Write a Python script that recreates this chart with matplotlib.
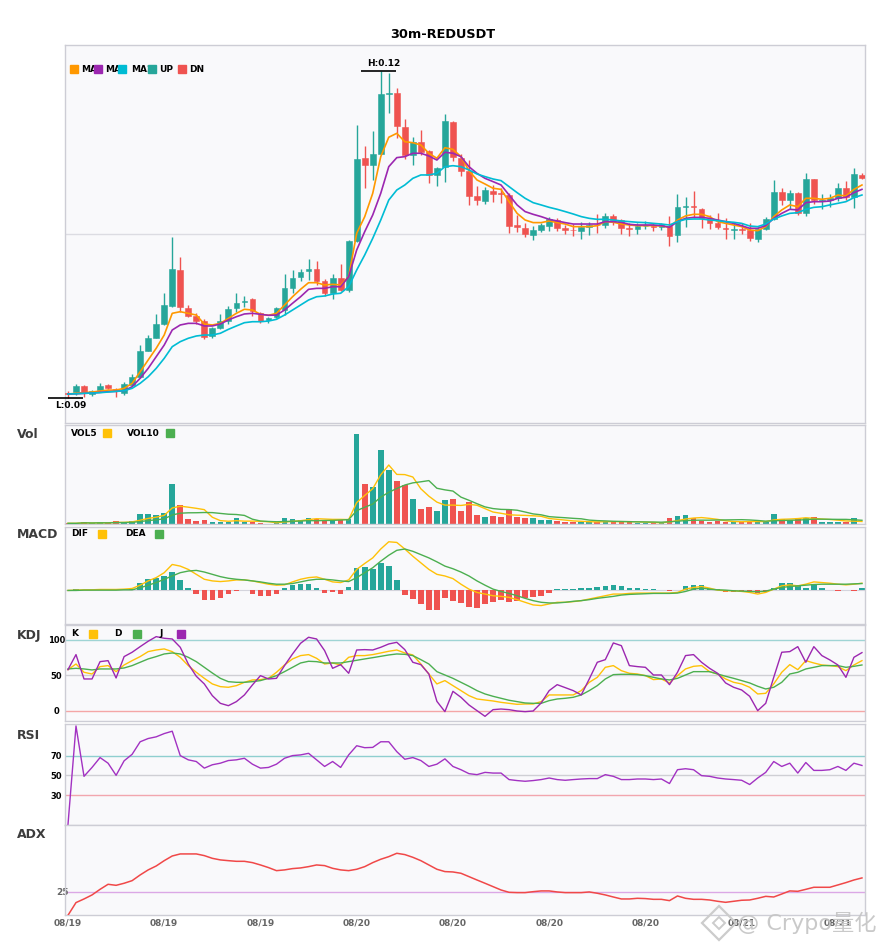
import numpy as np
import matplotlib
matplotlib.use("Agg")
import matplotlib.pyplot as plt
from matplotlib.patches import Rectangle
from matplotlib.lines import Line2D
from matplotlib.transforms import Bbox, TransformedBbox

W, H = 885, 950

# ---- 30m candles, prices x 1e-5 USDT ----
open_ = np.array([9049, 9052, 9110, 9037, 9073, 9117, 9085, 9046, 9119, 9193,
                  9431, 9553, 9682, 9844, 10174, 9828, 9755, 9706, 9566, 9639,
                  9704, 9828, 9881, 9908, 9777, 9718, 9740, 9807, 10009, 10113,
                  10168, 10181, 10073, 9966, 10098, 9991, 10440, 11202, 11138, 11236,
                  11789, 11798, 11486, 11229, 11348, 11269, 11043, 11122, 11535, 11206,
                  11082, 10853, 10807, 10902, 10881, 10862, 10587, 10557, 10498, 10541,
                  10581, 10633, 10557, 10544, 10535, 10566, 10590, 10587, 10670, 10633,
                  10560, 10553, 10575, 10581, 10572, 10578, 10498, 10755, 10761, 10734,
                  10642, 10605, 10560, 10544, 10550, 10541, 10461, 10548, 10639, 10890,
                  10816, 10881, 10700, 11009, 10807, 10816, 10832, 10929, 10847, 11049]) / 1e5
high = np.array([9064, 9128, 9119, 9076, 9138, 9128, 9094, 9150, 9220, 9486,
                 9578, 9768, 9961, 10477, 10294, 9853, 9777, 9722, 9651, 9768,
                 9844, 9966, 9939, 9920, 9786, 9746, 9832, 10135, 10172, 10181,
                 10272, 10257, 10092, 10135, 10227, 10450, 11505, 11309, 11450, 11997,
                 11979, 11844, 11557, 11392, 11459, 11275, 11122, 11605, 11544, 11238,
                 11183, 10945, 10936, 10951, 10927, 10878, 10679, 10603, 10578, 10603,
                 10663, 10649, 10587, 10594, 10617, 10617, 10688, 10694, 10688, 10639,
                 10603, 10603, 10624, 10603, 10608, 10670, 10871, 10841, 10899, 10740,
                 10679, 10700, 10649, 10603, 10608, 10603, 10566, 10658, 10997, 10927,
                 10908, 10893, 11064, 11009, 10871, 10871, 10975, 10988, 11110, 11067]) / 1e5
low = np.array([9000, 9028, 9005, 9021, 9067, 9080, 9012, 9030, 9110, 9181,
                9431, 9548, 9670, 9838, 9786, 9743, 9679, 9539, 9548, 9630,
                9682, 9786, 9838, 9755, 9691, 9685, 9731, 9761, 9961, 10076,
                10083, 10037, 9936, 9905, 9984, 9975, 10434, 10929, 11000, 11236,
                11612, 11382, 11193, 11140, 11229, 10970, 10948, 10979, 11174, 11037,
                10771, 10771, 10782, 10801, 10792, 10511, 10526, 10480, 10450, 10526,
                10535, 10532, 10505, 10486, 10459, 10495, 10511, 10557, 10587, 10505,
                10489, 10505, 10548, 10535, 10541, 10397, 10434, 10572, 10649, 10562,
                10553, 10550, 10461, 10459, 10502, 10443, 10434, 10541, 10633, 10771,
                10731, 10679, 10670, 10777, 10737, 10755, 10810, 10816, 10746, 11006]) / 1e5
close = np.array([9037, 9110, 9049, 9067, 9110, 9092, 9071, 9128, 9193, 9431,
                  9553, 9682, 9853, 10186, 9832, 9755, 9704, 9560, 9639, 9704,
                  9814, 9869, 9893, 9798, 9706, 9737, 9823, 10009, 10101, 10156,
                  10181, 10076, 9966, 10101, 9991, 10440, 11193, 11138, 11236, 11789,
                  11795, 11498, 11229, 11351, 11260, 11046, 11113, 11541, 11214, 11082,
                  10856, 10816, 10908, 10874, 10874, 10581, 10572, 10505, 10541, 10587,
                  10642, 10562, 10544, 10539, 10566, 10587, 10584, 10670, 10633, 10562,
                  10553, 10581, 10581, 10566, 10592, 10489, 10752, 10761, 10749, 10649,
                  10608, 10572, 10553, 10550, 10544, 10471, 10548, 10639, 10890, 10816,
                  10883, 10700, 11009, 10816, 10816, 10832, 10929, 10847, 11058, 11021]) / 1e5

# moving average lines as drawn on the chart (x 1e-5)
ma5 = np.array([9037, 9043, 9049, 9055, 9064, 9073, 9073, 9089, 9135, 9241,
                9349, 9456, 9578, 9777, 9792, 9777, 9761, 9679, 9670, 9685,
                9731, 9777, 9814, 9807, 9768, 9759, 9777, 9853, 9929, 9997,
                10058, 10058, 10037, 10043, 10037, 10113, 10511, 10663, 10878, 11214,
                11392, 11428, 11351, 11342, 11321, 11245, 11199, 11296, 11281, 11214,
                11086, 11000, 10963, 10924, 10914, 10801, 10694, 10633, 10609, 10609,
                10624, 10609, 10596, 10572, 10572, 10572, 10581, 10618, 10612, 10596,
                10587, 10581, 10581, 10581, 10578, 10566, 10633, 10670, 10685, 10685,
                10664, 10618, 10602, 10587, 10572, 10541, 10535, 10572, 10664, 10725,
                10771, 10755, 10832, 10832, 10823, 10832, 10862, 10853, 10914, 10954]) / 1e5
ma10 = np.array([9037, 9039, 9043, 9046, 9052, 9058, 9061, 9067, 9104, 9181,
                 9272, 9379, 9486, 9624, 9670, 9685, 9685, 9661, 9661, 9679,
                 9716, 9746, 9771, 9777, 9768, 9759, 9761, 9807, 9869, 9929,
                 9997, 10006, 10006, 10021, 10021, 10113, 10358, 10526, 10679, 10878,
                 11122, 11205, 11214, 11245, 11245, 11220, 11183, 11254, 11245, 11214,
                 11122, 11061, 11015, 10985, 10954, 10862, 10771, 10710, 10685, 10664,
                 10639, 10624, 10609, 10596, 10596, 10596, 10596, 10618, 10618, 10612,
                 10593, 10587, 10587, 10587, 10581, 10566, 10618, 10648, 10657, 10657,
                 10648, 10633, 10618, 10602, 10581, 10557, 10557, 10581, 10648, 10694,
                 10731, 10725, 10792, 10801, 10801, 10807, 10832, 10841, 10884, 10914]) / 1e5
ma20 = np.array([9037, 9039, 9043, 9046, 9049, 9055, 9061, 9067, 9089, 9135,
                 9195, 9272, 9364, 9471, 9517, 9548, 9569, 9578, 9578, 9594,
                 9630, 9661, 9691, 9700, 9700, 9706, 9722, 9761, 9807, 9853,
                 9899, 9929, 9936, 9954, 9961, 10021, 10174, 10312, 10465, 10633,
                 10816, 10908, 10954, 11015, 11046, 11046, 11061, 11122, 11131, 11122,
                 11092, 11055, 11031, 11009, 10994, 10939, 10884, 10832, 10792, 10771,
                 10749, 10731, 10710, 10688, 10664, 10648, 10639, 10639, 10633, 10624,
                 10618, 10612, 10609, 10602, 10596, 10587, 10618, 10639, 10642, 10642,
                 10633, 10627, 10618, 10612, 10602, 10578, 10572, 10596, 10642, 10670,
                 10694, 10700, 10731, 10749, 10755, 10771, 10786, 10801, 10838, 10862]) / 1e5

# volume (k) and its averages
vol = [3, 3, 7, 3, 6, 4, 9, 7, 10, 31, 31, 28, 34, 121, 58, 16, 11, 14, 7, 7,
       7, 19, 7, 7, 4, 2, 3, 19, 16, 14, 19, 16, 14, 11, 14, 16, 271, 121, 112, 223,
       163, 130, 118, 76, 46, 52, 41, 73, 76, 41, 68, 28, 22, 25, 22, 46, 22, 19, 19, 14,
       13, 10, 7, 7, 8, 7, 7, 10, 8, 8, 7, 5, 4, 4, 3, 19, 25, 28, 19, 10,
       7, 10, 7, 7, 7, 10, 10, 7, 31, 17, 14, 17, 19, 22, 7, 7, 7, 7, 19, 2]
vol5 = [3, 3, 4.3, 4, 4.4, 4.6, 5.8, 5.8, 7.2, 12.2, 17.6, 21.4, 26.8, 49, 54.4, 51.4, 48, 44, 21.2, 11,
        9.2, 10.8, 9.4, 9.4, 8.8, 7.8, 4.6, 7, 8.8, 10.8, 14.2, 16.8, 15.8, 14.8, 14.8, 14.2, 65.2, 86.6, 106.8, 148.6,
        178, 149.8, 149.2, 142, 106.6, 84.4, 66.6, 57.6, 57.6, 56.6, 59.8, 57.2, 47, 36.8, 33, 28.6, 27.4, 26.8, 25.6, 24,
        17.4, 15, 12.6, 10.2, 9, 7.8, 7.2, 7.8, 8, 8, 8, 7.6, 6.4, 5.6, 4.6, 7, 11, 15.8, 18.8, 20.2,
        17.8, 14.8, 10.6, 8.2, 7.6, 8.2, 8.2, 8.2, 13, 15, 15.8, 17.2, 19.6, 17.8, 15.8, 14.4, 12.4, 10, 9.4, 8.4]
vol10 = [3, 3, 4.3, 4, 4.4, 4.3, 5, 5.3, 5.8, 8.3, 11.1, 13.6, 16.3, 28.1, 33.3, 34.5, 34.7, 35.4, 35.1, 32.7,
         30.3, 29.4, 26.7, 15.3, 9.9, 8.5, 7.7, 8.2, 9.1, 9.8, 11, 10.7, 11.4, 11.8, 12.8, 14.2, 41, 51.2, 60.8, 81.7,
         96.1, 107.5, 117.9, 124.4, 127.6, 131.2, 108.2, 103.4, 99.8, 81.6, 72.1, 61.9, 52.3, 47.2, 44.8, 44.2, 42.3, 36.9, 31.2, 28.5,
         23, 21.2, 19.7, 17.9, 16.5, 12.6, 11.1, 10.2, 9.1, 8.5, 7.9, 7.4, 7.1, 6.8, 6.3, 7.5, 9.3, 11.1, 12.2, 12.4,
         12.4, 12.9, 13.2, 13.5, 13.9, 13, 11.5, 9.4, 10.6, 11.3, 12, 12.7, 13.9, 15.4, 15.4, 15.1, 14.8, 14.8, 13.6, 12.1]

# MACD (x 1e-5)
dif = [0, 1, 2, 2, 3, 3, 3, 4, 6, 16, 29, 39, 54, 79, 74, 64, 49, 34, 29, 27,
       29, 32, 32, 29, 24, 19, 16, 17, 26, 34, 39, 41, 34, 26, 24, 32, 64, 82, 99, 126,
       148, 146, 126, 104, 84, 64, 49, 44, 36, 19, 4, -6, -11, -16, -18, -21, -28, -36, -44, -46,
       -41, -36, -36, -34, -31, -26, -21, -16, -11, -11, -9, -8, -8, -8, -8, -8, -6, 4, 9, 12,
       7, 1, -1, -1, -3, -6, -11, -6, 4, 14, 17, 14, 19, 26, 24, 22, 19, 17, 19, 22]
dea = [0, 0, 1, 1, 1, 1, 1, 2, 2, 8, 16, 24, 34, 44, 54, 59, 61, 56, 49, 42,
       37, 34, 32, 29, 26, 22, 19, 19, 21, 26, 31, 34, 34, 32, 29, 27, 39, 54, 69, 89,
       107, 122, 126, 119, 109, 99, 87, 74, 66, 56, 44, 29, 16, 4, -3, -9, -16, -24, -31, -36,
       -38, -38, -36, -33, -31, -28, -24, -21, -18, -14, -12, -11, -10, -9, -9, -9, -8, -3, 4, 7,
       4, 2, 1, -1, -2, -3, -4, -2, 4, 9, 12, 14, 16, 18, 19, 19, 19, 19, 20, 21]
macd = [0, 3, 1, 1, 1, 1, 1, 2, 4, 24, 34, 39, 44, 57, 31, 6, -11, -28, -28, -24,
        -11, -2, 0, -11, -16, -18, -11, 7, 16, 19, 19, 7, -8, -6, -11, 12, 67, 71, 64, 82,
        74, 32, -14, -26, -41, -58, -58, -24, -31, -39, -51, -54, -41, -34, -28, -36, -31, -24, -21, -18,
        -8, 3, 3, 4, 6, 8, 11, 14, 18, 13, 7, 6, 5, 4, 2, -2, 1, 14, 18, 16,
        7, 4, -4, -6, -5, -6, -8, -6, 6, 24, 24, 16, 6, 19, 6, 0, -2, 2, -2, 6]

# KDJ
k_line = [57.7, 65.7, 54, 51.6, 62, 63.4, 54.9, 64.3, 70.4, 76.1, 83.1, 85.4, 86.9, 83.1, 75.1, 63.4, 54, 45.5, 37.6, 33.8,
          32.9, 35.2, 39.9, 43.2, 43.7, 45.5, 54, 64.3, 72.8, 77.5, 78.9, 73.7, 65.7, 67.1, 64.3, 75.1, 77.5, 77.5, 78.9, 81.2,
          83.6, 85.4, 81.2, 78.4, 65.7, 51.6, 37.6, 42.3, 35.2, 28.2, 21.1, 16.4, 15, 13.6, 11.7, 10.3, 8.9, 9.4, 9.4, 12.7,
          22.1, 22.1, 22.1, 22.1, 28.2, 39.9, 46.9, 61, 63.4, 56.3, 52.6, 51.6, 49.3, 43.7, 44.6, 39, 49.3, 58.7, 62.4, 63.4,
          54.9, 51.6, 44.6, 39.9, 37.6, 32.9, 23.5, 24.4, 37.6, 54, 64.8, 57.7, 70.4, 67.1, 64.3, 63.4, 62, 56.3, 64.3, 70.4]
d_line = [58.7, 59.6, 58.7, 57.3, 58.7, 58.7, 58.7, 60.1, 63.4, 68.1, 72.8, 76.1, 79.8, 81.2, 79.8, 75.1, 69, 61, 53, 45.5,
          40.8, 39.9, 39.9, 40.8, 42.3, 45.5, 49.3, 54.9, 61, 67.1, 69.5, 69, 67.1, 67.1, 67.1, 69, 70.9, 72.8, 74.6, 76.5,
          78.4, 79.8, 79.3, 77.5, 71.8, 65.7, 54.9, 50.2, 45.5, 39.9, 34.3, 28.2, 23.5, 20.2, 17.4, 14.6, 12.7, 10.8, 10.3, 10.3,
          14.1, 16.4, 17.4, 18.8, 22.1, 28.2, 35.2, 44.6, 50.7, 51.2, 51.2, 50.7, 49.3, 46.9, 44.6, 43.2, 45.5, 50.2, 54.9, 54.9,
          54.9, 51.6, 48.4, 45.5, 42.3, 39, 34.3, 30.5, 32.9, 39.9, 51.6, 54, 58.7, 61, 63.4, 63.4, 63.4, 61, 62.4, 64.3]
j_line = [57.7, 78.9, 44.6, 44.6, 69, 70.4, 46, 76.1, 82.2, 90.1, 97.7, 104.2, 101.9, 100.9, 89.2, 65.7, 48.4, 37.6, 21.1, 10.3,
          7, 12.7, 22.1, 36.2, 49.3, 44.6, 45.5, 63.4, 79.8, 94.8, 103.3, 100.9, 84.5, 59.6, 64.8, 52.6, 85.4, 85.9, 85.4, 89.2,
          93.9, 96.2, 85.9, 68.1, 64.8, 51.6, 13.1, -1.4, 27.2, 18.8, 8, 0, -8, 1.4, 2.3, 1.4, -0.5, -1.4, -0.5, 10.8,
          28.2, 36.6, 32.4, 28.2, 22.1, 44.6, 68.1, 71.8, 95.3, 91.5, 63.4, 62, 61, 50.2, 50.2, 36.6, 54, 77.5, 78.9, 68.1,
          59.6, 52.6, 39, 32.9, 29.1, 20.2, 0, 10.3, 46.9, 82.2, 83.1, 90.1, 68.1, 90.1, 77.5, 71.4, 64.3, 46.9, 75.1, 81.7]

rsi = [0, 100, 49, 58, 68, 62.3, 50, 64.7, 71.3, 84, 87.3, 89, 92.3, 94.7, 70, 65.7, 64, 57.3, 60.7, 62.3,
       65, 65.7, 67.3, 61.3, 57.3, 58, 61.3, 67.3, 70, 70.7, 72.3, 65.7, 59, 64, 58, 70.7, 80, 78, 78.3, 84,
       84, 74, 66.3, 68, 65, 59, 61.3, 66.7, 59, 55.7, 51.7, 50.7, 53, 52.3, 52.3, 45.7, 44.7, 44, 44.7, 45.7,
       47.3, 45.7, 45, 45.7, 46.3, 46.7, 46.7, 50.7, 49, 45.7, 45.7, 46.3, 46.3, 45.7, 46.3, 41.7, 55.7, 56.7, 55.7, 49.7,
       49, 47.3, 46.3, 45.7, 45, 40.7, 47.3, 53, 64, 59, 62.3, 52.3, 63, 55, 55, 55.7, 59, 55, 62.3, 60]

adx = [0, 13.6, 17.5, 21.8, 27.8, 33.2, 32.1, 34.3, 37.1, 43.2, 48.6, 52.8, 58.5, 63.5, 65.7, 65.7, 65.7, 63.9, 61, 59.3,
       58.5, 57.8, 57.8, 56.4, 53.9, 51.1, 47.8, 48.6, 50, 50.7, 52.1, 53.9, 53.2, 50.3, 48.6, 47.8, 49.3, 52.1, 56.4, 60,
       62.8, 66.4, 65, 62.1, 58.5, 53.9, 49.3, 46.8, 46.4, 45, 41.4, 37.8, 34.3, 30.7, 27.1, 24.6, 24.3, 24.3, 25.3, 26.1,
       26.1, 25, 24.3, 24.3, 24.3, 25, 23.6, 21.8, 19.6, 17.5, 17.5, 18.2, 17.9, 17.1, 17.1, 15.7, 20.7, 18.2, 17.1, 17.1,
       16.4, 15, 13.9, 15, 16.1, 16.4, 18.2, 20.3, 19.6, 22.8, 26.1, 25.7, 27.8, 30, 30, 30, 32.5, 35, 37.8, 40]

date_labels = ["08/19", "08/19", "08/19", "08/20", "08/20", "08/20", "08/20", "08/21", "08/21"]

UP, DN = "#26a69a", "#ef5350"
C_MA5, C_MA10, C_MA20 = "#ff9800", "#9c27b0", "#00bcd4"
C_YEL, C_GRN, C_PUR = "#ffc107", "#4caf50", "#9c27b0"
BG, EDGE = "#f9f9fb", "#cdcdd5"

n = len(close)
x = np.arange(n)
up = close >= open_
colors = np.where(up, UP, DN)


def fx(px):
    return px / W


def fy(py):
    return 1 - py / H


def panel(top, bottom):
    ax = fig.add_axes([fx(65), fy(bottom), 800 / W, (bottom - top) / H])
    ax.set_facecolor(BG)
    for s in ax.spines.values():
        s.set_color(EDGE)
        s.set_linewidth(1)
    ax.tick_params(left=False, bottom=False, labelleft=False, labelbottom=False, length=0)
    ax.set_xlim(-0.37, 99.38)
    return ax


def ylabels(ax, ticks):
    ax.set_yticks(ticks)
    ax.set_yticklabels([str(t) for t in ticks])
    ax.tick_params(labelleft=True, pad=6, labelsize=6, length=0)
    for lab in ax.get_yticklabels():
        lab.set_fontweight("bold")
        lab.set_horizontalalignment("center")


def legend(items, py):
    # items: (label, color, text_x, square_x, clip_x)
    for label, color, tx, sx, cx in items:
        t = fig.text(fx(tx), fy(py), label, fontsize=6.5, fontweight="bold",
                     va="center", ha="left", zorder=4)
        if cx is not None:
            t.set_clip_box(TransformedBbox(Bbox([[0, 0], [fx(cx), 1]]), fig.transFigure))
            t.set_clip_on(True)
        fig.add_artist(Rectangle((fx(sx), fy(py + 4)), 8 / W, 8 / H,
                                 transform=fig.transFigure, color=color, zorder=5))


fig = plt.figure(figsize=(W / 100, H / 100), dpi=100)
fig.text(fx(442.5), fy(34), "30m-REDUSDT", fontsize=9.3, fontweight="bold",
         ha="center", va="center")

# ---- main candles ----
ax = panel(45, 423)
ax.set_ylim(0.08771, 0.12238)
ax.axhline(0.105, color="#dcdce2", lw=1, zorder=1)
ax.vlines(x, low, high, colors=colors, lw=1, zorder=2)
body = np.maximum(np.abs(close - open_), 0.000012)
ax.bar(x, body, bottom=np.minimum(open_, close), width=0.72, color=colors,
       edgecolor=colors, linewidth=0.4, zorder=3)
ax.plot(x, ma5, color=C_MA5, lw=1.2, zorder=4)
ax.plot(x, ma10, color=C_MA10, lw=1.2, zorder=4)
ax.plot(x, ma20, color=C_MA20, lw=1.2, zorder=4)

ih, il = int(np.argmax(high)), int(np.argmin(low))
ax.hlines(high[ih], ih - 2.5, ih + 1.9, color="black", lw=1.2, zorder=5)
ax.annotate(f"H:{high[ih]:.2f}", (ih + 0.4, high[ih]), xytext=(0, 2),
            textcoords="offset points", ha="center", va="bottom",
            fontsize=6.5, fontweight="bold")
ax.hlines(low[il], il - 2.5, il + 1.9, color="black", lw=1.2, zorder=5,
          clip_on=False)
ax.annotate(f"L:{low[il]:.2f}", (il + 0.4, low[il]), xytext=(0, -2),
            textcoords="offset points", ha="center", va="top",
            fontsize=6.5, fontweight="bold")
legend([("MA5", C_MA5, 81, 70, 94), ("MA10", C_MA10, 105, 94, 118),
        ("MA20", C_MA20, 131, 118, 148), ("UP", UP, 159, 148, None),
        ("DN", DN, 189, 178, None)], 69)

# ---- volume ----
ax = panel(424.7, 524.3)
ax.set_ylim(0, 299)
ax.bar(x, vol, width=0.7, color=colors, zorder=2)
ax.plot(x, vol5, color=C_YEL, lw=1, zorder=3)
ax.plot(x, vol10, color=C_GRN, lw=1, zorder=3)
legend([("VOL5", C_YEL, 71, 103, None), ("VOL10", C_GRN, 127, 166, None)], 433)

# ---- MACD ----
ax = panel(527.3, 624)
ax.set_ylim(-102, 192)
ax.axhline(0, color="#d4d4dc", lw=0.8, zorder=1)
ax.bar(x, macd, width=0.7, color=[UP if v >= 0 else DN for v in macd], zorder=2)
ax.plot(x, dif, color=C_YEL, lw=1, zorder=3)
ax.plot(x, dea, color=C_GRN, lw=1, zorder=3)
legend([("DIF", C_YEL, 71, 98, None), ("DEA", C_GRN, 125, 155, None)], 534)

# ---- KDJ ----
ax = panel(624.7, 721.3)
ax.set_ylim(-15, 121)
ax.axhline(100, color="#9fd4d4", lw=1, zorder=1)
ax.axhline(50, color="#cfcfd4", lw=1, zorder=1)
ax.axhline(0, color="#f4a6a6", lw=1, zorder=1)
ax.plot(x, k_line, color=C_YEL, lw=1, zorder=3)
ax.plot(x, d_line, color=C_GRN, lw=1, zorder=3)
ax.plot(x, j_line, color=C_PUR, lw=1, zorder=3)
ylabels(ax, [0, 50, 100])
legend([("K", C_YEL, 71, 89, None), ("D", C_GRN, 114, 133, None),
        ("J", C_PUR, 159, 177, None)], 633.7)

# ---- RSI ----
ax = panel(724, 824.7)
ax.set_ylim(0, 102)
ax.axhline(70, color="#8fcfcf", lw=1, zorder=1)
ax.axhline(50, color="#cfcfd4", lw=1, zorder=1)
ax.axhline(30, color="#f2a6ae", lw=1, zorder=1)
ax.plot(x, rsi, color="#a232c2", lw=1, zorder=3)
ylabels(ax, [30, 50, 70])

# ---- ADX ----
ax = panel(824.7, 915.3)
ax.set_ylim(0, 97)
ax.axhline(25, color="#dba8e6", lw=1, zorder=1)
ax.plot(x, adx, color="#f04848", lw=1.1, zorder=3)
ylabels(ax, [25])
ax.set_xticks(x[::12])
ax.set_xticklabels(date_labels)
ax.tick_params(labelbottom=True, pad=2, labelsize=6.5, labelcolor="#666666", length=0)
for lab in ax.get_xticklabels():
    lab.set_fontweight("bold")

# panel titles
for name, py in [("Vol", 435), ("MACD", 534.7), ("KDJ", 635.3), ("RSI", 735.3), ("ADX", 835)]:
    fig.text(fx(17), fy(py), name, fontsize=9, fontweight="bold", color="#3c3c3c",
             ha="left", va="center")

# watermark
fig.add_artist(Line2D([fx(719)], [fy(923)], marker="D", markersize=17, mfc="none",
                      mec="#cccccc", mew=1.6, transform=fig.transFigure))
fig.add_artist(Line2D([fx(719)], [fy(923)], marker="D", markersize=6, mfc="none",
                      mec="#cccccc", mew=1.4, transform=fig.transFigure))
fig.text(fx(737), fy(923), "@ Crypo量化", fontsize=16, color="#c4c4c4", alpha=0.9,
         ha="left", va="center", family=["DejaVu Sans", "Noto Sans CJK SC"], zorder=6)

fig.savefig("out.png", dpi=100)
